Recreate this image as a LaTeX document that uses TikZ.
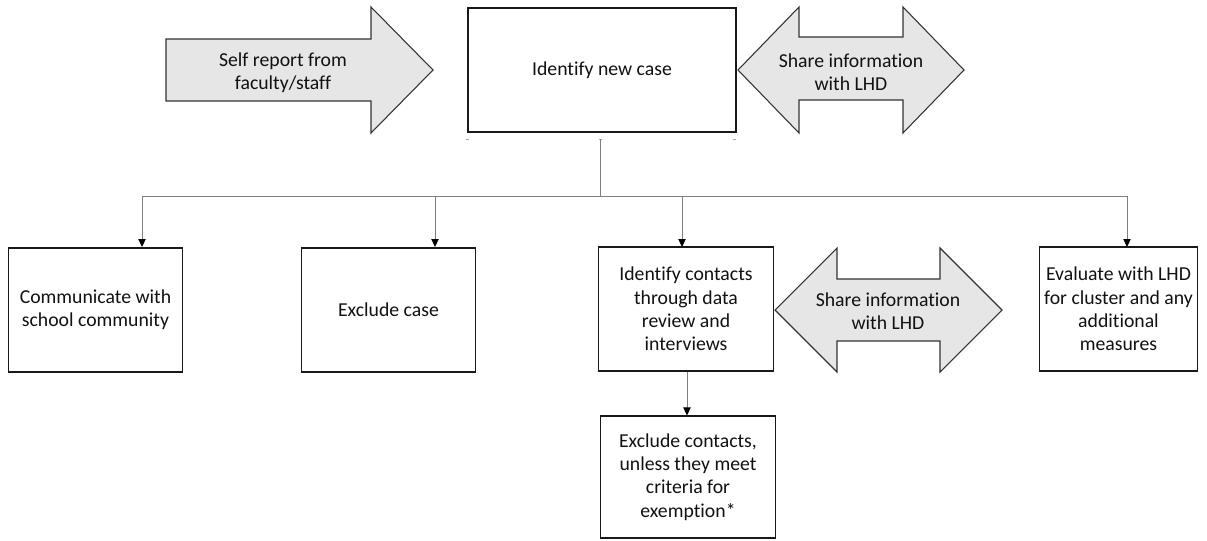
\documentclass[tikz,border=0pt]{standalone}
\usepackage{fontspec}
\setmainfont[Ligatures=NoCommon]{Carlito}
\usetikzlibrary{arrows.meta}
\usetikzlibrary{positioning}

\definecolor{arrowgray}{HTML}{E7E6E6}
\definecolor{linegray}{HTML}{7F7F7F}
\definecolor{textdark}{HTML}{111111}

\begin{document}
\begin{tikzpicture}[x=0.75pt,y=-0.75pt,
  every node/.style={font=\fontsize{14.8}{17.5}\selectfont,text=textdark,align=center},
  box/.style={draw=black!90,line width=0.8pt,inner sep=0pt,minimum width=131pt,minimum height=93pt},
  blockarrow/.style={draw=black!80,line width=0.8pt,fill=arrowgray,line join=miter},
  link/.style={draw=linegray,line width=0.7pt,-{Triangle[black,width=5.5pt,length=6pt]}},
  tick/.style={draw=black!35,line width=0.6pt}]
  \useasboundingbox (0,0) rectangle (1207,540);

  \draw[blockarrow] (166,39) -- (371,39) -- (371,7) -- (433,70) -- (371,133) -- (371,101) -- (166,101) -- cycle;
  \node (self) at (283,73) {Self report from\\faculty/staff};

  \node[box,minimum width=201pt] (case) at (602,70) {Identify new case};

  \draw[blockarrow] (738,70) -- (799,7) -- (799,37) -- (903,37) -- (903,7) -- (964,70) -- (903,133) -- (903,100) -- (799,100) -- (799,133) -- cycle;
  \node (share1) at (851,72) {Share information\\with LHD};

  \draw[tick] (466,139) -- (469,139);
  \draw[tick] (599,139) -- (602,139);
  \draw[tick] (733,139) -- (736,139);

  \node[box] (comm) at (95.5,310) {Communicate with\\school community};
  \node[box] (excl) at (388.5,310) {Exclude case};
  \node[box] (cont) at (686,309) {Identify contacts\\through data\\review and\\interviews};
  \node[box,minimum height=91.5pt] (exem) at (688,477) {Exclude contacts,\\unless they meet\\criteria for\\exemption*};
  \node[box,minimum width=118pt] (eval) at (1118.5,309) {Evaluate with LHD\\for cluster and any\\additional\\measures};

  \draw[blockarrow] (775,310) -- (837,248) -- (837,279) -- (940,279) -- (940,248) -- (1002,310) -- (940,372) -- (940,341) -- (837,341) -- (837,372) -- cycle;
  \node (share2) at (888,311) {Share information\\with LHD};

  \coordinate (top) at (600,139);
  \coordinate (bus) at (600,196);
  \coordinate (b1) at (142,247);
  \coordinate (b2) at (435,247);
  \coordinate (b3) at (682,247);
  \coordinate (b5) at (1127,247);

  \draw[draw=linegray,line width=0.7pt] (top) -- (bus);
  \draw[link] (bus) -| (b1);
  \draw[link] (bus) -| (b2);
  \draw[link] (bus) -| (b3);
  \draw[link] (bus) -| (b5);
  \draw[link] (cont.south -| 687,0) -- (exem.north -| 687,0);
\end{tikzpicture}
\end{document}
